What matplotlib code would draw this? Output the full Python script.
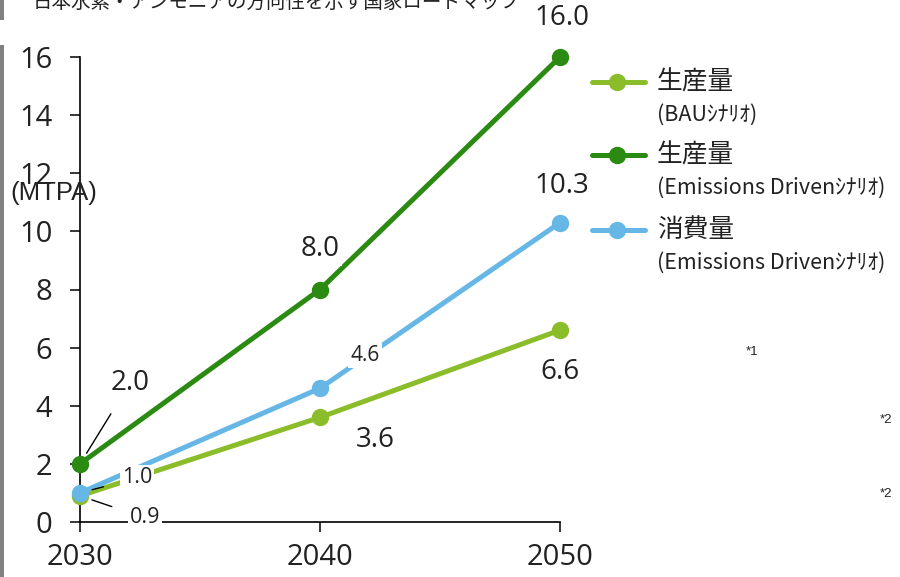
import matplotlib
matplotlib.use("Agg")
import matplotlib.pyplot as plt
from matplotlib.patches import Rectangle

# ---- data ----
years = [2030, 2040, 2050]
bau_prod = [0.9, 3.6, 6.6]
ed_prod = [2.0, 8.0, 16.0]
ed_cons = [1.0, 4.6, 10.3]
yticks = [0, 2, 4, 6, 8, 10, 12, 14, 16]
legend_main = ["生産量", "生産量", "消費量"]
legend_sub = ["(BAUｼﾅﾘｵ)", "(Emissions Drivenｼﾅﾘｵ)", "(Emissions Drivenｼﾅﾘｵ)"]
title = "日本水素・アンモニアの方向性を示す国家ロードマップ"
unit = "(MTPA)"
notes = ["*1", "*2", "*2"]

c_bau = "#8bbd2b"
c_ed = "#2b8a12"
c_cons = "#66b7e6"

W, H = 900, 577
fig = plt.figure(figsize=(9, 5.77), dpi=100)
ax = fig.add_axes([80 / W, 1 - 522 / H, 480 / W, 465 / H])

num_font = ["Open Sans", "DejaVu Sans"]
jp_font = ["Noto Sans CJK JP", "DejaVu Sans"]

series = [(bau_prod, c_bau), (ed_prod, c_ed), (ed_cons, c_cons)]
for vals, col in series:
    ax.plot(years, vals, color=col, lw=3.6, marker="o", ms=11.5,
            solid_capstyle="butt", zorder=3, clip_on=False)

ax.set_xlim(2030, 2050)
ax.set_ylim(0, 16)
ax.set_xticks(years)
ax.set_yticks(yticks)
ax.set_xticklabels([str(y) for y in years], fontfamily=num_font, fontsize=21,
                   color="#222222")
ax.set_yticklabels([str(t) for t in yticks], fontfamily=num_font, fontsize=21,
                   color="#222222")
ax.tick_params(direction="out", length=7, width=1.1, colors="black")
ax.tick_params(axis="x", pad=8, labelcolor="#222222")
ax.tick_params(axis="y", pad=13, labelcolor="#222222")
for s in ["top", "right"]:
    ax.spines[s].set_visible(False)
for s in ["left", "bottom"]:
    ax.spines[s].set_linewidth(1.2)
    ax.spines[s].set_zorder(2)

# data labels: (x, y, offset px, fontsize, leader)
labels = [
    (years[2], ed_prod[2], (2, 39), 20, False),
    (years[1], ed_prod[1], (0, 40), 20, False),
    (years[0], ed_prod[0], (50, 81), 20, True),
    (years[2], ed_cons[2], (2, 37), 20, False),
    (years[1], ed_cons[1], (45, 33), 15, False),
    (years[0], ed_cons[0], (57, 15), 15.5, True),
    (years[2], bau_prod[2], (0, -42), 20, False),
    (years[1], bau_prod[1], (55, -23), 20, False),
    (years[0], bau_prod[0], (65, -22), 15.5, True),
]
for x, y, off, fs, leader in labels:
    kw = {}
    if leader:
        kw["arrowprops"] = dict(arrowstyle="-", color="black", lw=1.0,
                                shrinkA=12, shrinkB=9)
    ax.annotate(f"{y:.1f}", xy=(x, y), xytext=off, textcoords="offset pixels",
                ha="center", va="center", fontsize=fs, fontfamily=num_font,
                color="#222222", zorder=5, annotation_clip=False,
                bbox=dict(boxstyle="square,pad=0.1", fc="white", ec="none"),
                **kw)

# unit label
fig.text(54 / W, 1 - 193 / H, unit, fontsize=18.5, ha="center", va="center",
         fontfamily=["Liberation Sans", "DejaVu Sans"], color="#222222")

# legend (manual)
leg_y = [82, 155, 230]
for (vals, col), ly, m, s in zip(series, leg_y, legend_main, legend_sub):
    fig.add_artist(plt.Line2D([592 / W, 645 / W], [1 - ly / H, 1 - ly / H],
                              color=col, lw=3.6, solid_capstyle="round"))
    fig.add_artist(plt.Line2D([617 / W], [1 - ly / H], color=col, marker="o",
                              ms=11.5, lw=0))
    fig.text(657 / W, 1 - ly / H, m, fontsize=18.5, fontfamily=jp_font,
             ha="left", va="center", color="#222222")
    fig.text(657 / W, 1 - (ly + 33) / H, s, fontsize=15.5, fontfamily=jp_font,
             ha="left", va="center", color="#222222")

# notes
for (nx, ny), n in zip([(752, 352), (886, 420), (886, 494)], notes):
    fig.text(nx / W, 1 - ny / H, n, fontsize=9.5, ha="center", va="center",
             fontfamily=["Liberation Sans", "DejaVu Sans"], color="#222222")

# clipped title at top
fig.text(33 / W, 1 - 8 / H, title, fontsize=14, fontfamily=jp_font,
         ha="left", va="baseline", color="#222222")

# gray slide border at the left
fig.add_artist(Rectangle((0, 1 - 20 / H), 4 / W, 20 / H, transform=fig.transFigure,
                         color="#808080", lw=0))
fig.add_artist(Rectangle((0, 0), 4 / W, 1 - 45 / H, transform=fig.transFigure,
                         color="#808080", lw=0))

fig.savefig("out.png", dpi=100)
